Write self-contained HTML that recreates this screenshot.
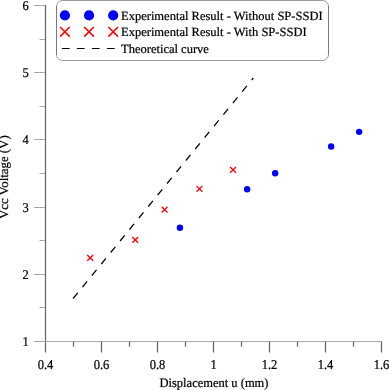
<!DOCTYPE html>
<html><head><meta charset="utf-8"><style>
html,body{margin:0;padding:0;background:#fff;width:389px;height:390px;overflow:hidden}
svg{display:block;text-rendering:geometricPrecision;will-change:transform}
.t{font-family:"Liberation Serif",serif;font-size:12.5px;fill:#000;stroke:#000;stroke-width:0.22px}
.yt{font-family:"Liberation Serif",serif;font-size:12.85px;fill:#000;stroke:#000;stroke-width:0.22px}
.l{font-family:"Liberation Serif",serif;font-size:12.52px;fill:#000;stroke:#000;stroke-width:0.22px}
</style></head><body>
<svg width="389" height="390" viewBox="0 0 389 390">
<line x1="45.5" y1="5.00" x2="45.5" y2="341.5" stroke="#676767" stroke-width="1.25"/>
<line x1="45" y1="341.5" x2="382.10" y2="341.5" stroke="#a8a8a8" stroke-width="1"/>
<line x1="34" y1="341.50" x2="45" y2="341.50" stroke="#a8a8a8" stroke-width="1"/>
<text transform="translate(25.6,346.05) scale(1,1.07)" text-anchor="middle" class="t">1</text>
<line x1="34" y1="274.50" x2="45" y2="274.50" stroke="#a8a8a8" stroke-width="1"/>
<text transform="translate(25.6,278.85) scale(1,1.07)" text-anchor="middle" class="t">2</text>
<line x1="34" y1="207.50" x2="45" y2="207.50" stroke="#a8a8a8" stroke-width="1"/>
<text transform="translate(25.6,211.65) scale(1,1.07)" text-anchor="middle" class="t">3</text>
<line x1="34" y1="139.50" x2="45" y2="139.50" stroke="#a8a8a8" stroke-width="1"/>
<text transform="translate(25.6,144.45) scale(1,1.07)" text-anchor="middle" class="t">4</text>
<line x1="34" y1="72.50" x2="45" y2="72.50" stroke="#a8a8a8" stroke-width="1"/>
<text transform="translate(25.6,77.25) scale(1,1.07)" text-anchor="middle" class="t">5</text>
<line x1="34" y1="5.50" x2="45" y2="5.50" stroke="#a8a8a8" stroke-width="1"/>
<text transform="translate(25.6,10.05) scale(1,1.07)" text-anchor="middle" class="t">6</text>
<line x1="39.5" y1="307.50" x2="45" y2="307.50" stroke="#a8a8a8" stroke-width="1"/>
<line x1="39.5" y1="240.50" x2="45" y2="240.50" stroke="#a8a8a8" stroke-width="1"/>
<line x1="39.5" y1="173.50" x2="45" y2="173.50" stroke="#a8a8a8" stroke-width="1"/>
<line x1="39.5" y1="106.50" x2="45" y2="106.50" stroke="#a8a8a8" stroke-width="1"/>
<line x1="39.5" y1="39.50" x2="45" y2="39.50" stroke="#a8a8a8" stroke-width="1"/>
<line x1="45.50" y1="341.8" x2="45.50" y2="352.5" stroke="#676767" stroke-width="1.25"/>
<text transform="translate(45.50,368.8) scale(1,1.08)" text-anchor="middle" class="t">0.4</text>
<line x1="101.50" y1="341.8" x2="101.50" y2="352.5" stroke="#676767" stroke-width="1.25"/>
<text transform="translate(101.50,368.8) scale(1,1.08)" text-anchor="middle" class="t">0.6</text>
<line x1="157.50" y1="341.8" x2="157.50" y2="352.5" stroke="#676767" stroke-width="1.25"/>
<text transform="translate(157.50,368.8) scale(1,1.08)" text-anchor="middle" class="t">0.8</text>
<line x1="213.50" y1="341.8" x2="213.50" y2="352.5" stroke="#676767" stroke-width="1.25"/>
<text transform="translate(213.50,368.8) scale(1,1.08)" text-anchor="middle" class="t">1</text>
<line x1="269.50" y1="341.8" x2="269.50" y2="352.5" stroke="#676767" stroke-width="1.25"/>
<text transform="translate(269.50,368.8) scale(1,1.08)" text-anchor="middle" class="t">1.2</text>
<line x1="325.50" y1="341.8" x2="325.50" y2="352.5" stroke="#676767" stroke-width="1.25"/>
<text transform="translate(325.50,368.8) scale(1,1.08)" text-anchor="middle" class="t">1.4</text>
<line x1="381.50" y1="341.8" x2="381.50" y2="352.5" stroke="#676767" stroke-width="1.25"/>
<text transform="translate(381.50,368.8) scale(1,1.08)" text-anchor="middle" class="t">1.6</text>
<line x1="73.50" y1="341.8" x2="73.50" y2="346.6" stroke="#676767" stroke-width="1.25"/>
<line x1="129.50" y1="341.8" x2="129.50" y2="346.6" stroke="#676767" stroke-width="1.25"/>
<line x1="185.50" y1="341.8" x2="185.50" y2="346.6" stroke="#676767" stroke-width="1.25"/>
<line x1="241.50" y1="341.8" x2="241.50" y2="346.6" stroke="#676767" stroke-width="1.25"/>
<line x1="297.50" y1="341.8" x2="297.50" y2="346.6" stroke="#676767" stroke-width="1.25"/>
<line x1="353.50" y1="341.8" x2="353.50" y2="346.6" stroke="#676767" stroke-width="1.25"/>
<text transform="translate(214,387) scale(1,1.04)" text-anchor="middle" class="t">Displacement u (mm)</text>
<text transform="translate(8.45,177.2) rotate(-90)" text-anchor="middle" class="yt">Vcc Voltage (V)</text>
<line x1="73.1" y1="298.5" x2="253.3" y2="78" stroke="#000" stroke-width="1.25" stroke-dasharray="7.3 7.55"/>
<path d="M87.30 255.00L93.10 260.80M87.30 260.80L93.10 255.00" stroke="#f00" stroke-width="1.3" fill="none"/>
<path d="M132.30 237.00L138.10 242.80M132.30 242.80L138.10 237.00" stroke="#f00" stroke-width="1.3" fill="none"/>
<path d="M161.70 206.70L167.50 212.50M161.70 212.50L167.50 206.70" stroke="#f00" stroke-width="1.3" fill="none"/>
<path d="M196.60 185.90L202.40 191.70M196.60 191.70L202.40 185.90" stroke="#f00" stroke-width="1.3" fill="none"/>
<path d="M230.15 167.00L235.95 172.80M230.15 172.80L235.95 167.00" stroke="#f00" stroke-width="1.3" fill="none"/>
<circle cx="179.95" cy="227.7" r="3.2" fill="#00f"/>
<circle cx="247.15" cy="189.3" r="3.2" fill="#00f"/>
<circle cx="275.15" cy="173.3" r="3.2" fill="#00f"/>
<circle cx="331.15" cy="146.55" r="3.2" fill="#00f"/>
<circle cx="359.15" cy="131.85" r="3.2" fill="#00f"/>
<rect x="56.5" y="0.5" width="272" height="60" rx="6" ry="6" fill="#fff" stroke="#9a9a9a" stroke-width="1"/>
<line x1="56.5" y1="6" x2="56.5" y2="55" stroke="#7a7a7a" stroke-width="1"/>
<line x1="328.5" y1="6" x2="328.5" y2="55" stroke="#7a7a7a" stroke-width="1"/>
<circle cx="64.9" cy="15.4" r="5.1" fill="#00f"/>
<path d="M60.10 27.00L69.70 36.60M60.10 36.60L69.70 27.00" stroke="#f00" stroke-width="1.55" fill="none"/>
<circle cx="89.05" cy="15.4" r="5.1" fill="#00f"/>
<path d="M84.25 27.00L93.85 36.60M84.25 36.60L93.85 27.00" stroke="#f00" stroke-width="1.55" fill="none"/>
<circle cx="113.2" cy="15.4" r="5.1" fill="#00f"/>
<path d="M108.40 27.00L118.00 36.60M108.40 36.60L118.00 27.00" stroke="#f00" stroke-width="1.55" fill="none"/>
<line x1="61.9" y1="48.5" x2="115" y2="48.5" stroke="#000" stroke-width="1.1" stroke-dasharray="7.7 7.3"/>
<text x="121" y="19.7" class="l">Experimental Result - Without SP-SSDI</text>
<text x="121" y="36.3" class="l">Experimental Result - With SP-SSDI</text>
<text x="121" y="52.9" class="l">Theoretical curve</text>
</svg>
</body></html>
